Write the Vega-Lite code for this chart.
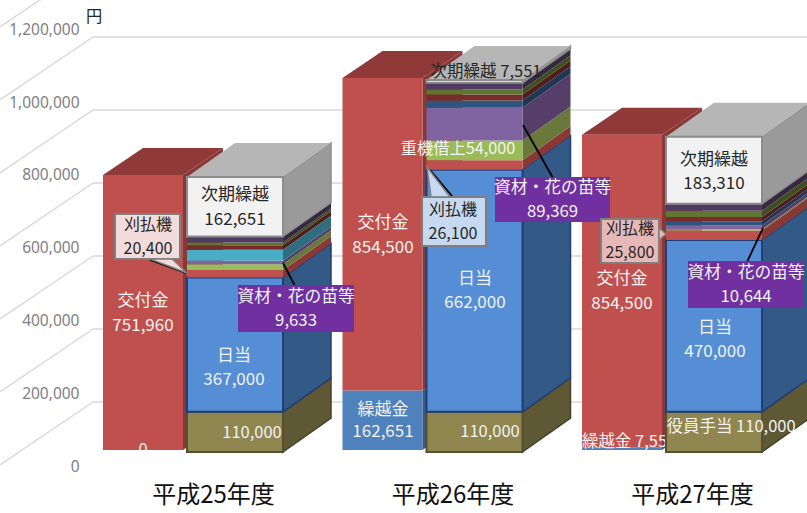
{
"$schema":"https://vega.github.io/schema/vega-lite/v6.json",
"width":807,"height":513,"padding":0,"autosize":{"type":"none"},
"background":"white",
"config":{"view":{"stroke":null},"text":{"font":"Noto Sans CJK JP"}},
"datasets":{
"segs":[
{"year":2013,"col":"L","order":1,"item":"繰越金","amount":0},
{"year":2013,"col":"L","order":2,"item":"交付金","amount":751960},
{"year":2014,"col":"L","order":1,"item":"繰越金","amount":162651},
{"year":2014,"col":"L","order":2,"item":"交付金","amount":854500},
{"year":2015,"col":"L","order":1,"item":"繰越金","amount":7551},
{"year":2015,"col":"L","order":2,"item":"交付金","amount":854500},
{"year":2013,"col":"R","order":1,"item":"役員手当","amount":110000},
{"year":2013,"col":"R","order":2,"item":"日当","amount":367000},
{"year":2013,"col":"R","order":3,"item":"刈払機","amount":20400},
{"year":2013,"col":"R","order":4,"item":"重機借上","amount":16000},
{"year":2013,"col":"R","order":5,"item":"資材・花の苗等","amount":9633},
{"year":2013,"col":"R","order":6,"item":"項目A","amount":30000},
{"year":2013,"col":"R","order":8,"item":"項目C","amount":12000},
{"year":2013,"col":"R","order":9,"item":"項目D","amount":8000},
{"year":2013,"col":"R","order":10,"item":"項目E","amount":16276},
{"year":2013,"col":"R","order":11,"item":"次期繰越","amount":162651},
{"year":2014,"col":"R","order":1,"item":"役員手当","amount":110000},
{"year":2014,"col":"R","order":2,"item":"日当","amount":662000},
{"year":2014,"col":"R","order":3,"item":"刈払機","amount":26100},
{"year":2014,"col":"R","order":4,"item":"重機借上","amount":54000},
{"year":2014,"col":"R","order":5,"item":"資材・花の苗等","amount":89369},
{"year":2014,"col":"R","order":7,"item":"項目B","amount":20000},
{"year":2014,"col":"R","order":8,"item":"項目C","amount":16000},
{"year":2014,"col":"R","order":9,"item":"項目D","amount":14000},
{"year":2014,"col":"R","order":10,"item":"項目E","amount":18131},
{"year":2014,"col":"R","order":11,"item":"次期繰越","amount":7551},
{"year":2015,"col":"R","order":1,"item":"役員手当","amount":110000},
{"year":2015,"col":"R","order":2,"item":"日当","amount":470000},
{"year":2015,"col":"R","order":3,"item":"刈払機","amount":25800},
{"year":2015,"col":"R","order":4,"item":"重機借上","amount":3297},
{"year":2015,"col":"R","order":5,"item":"資材・花の苗等","amount":10644},
{"year":2015,"col":"R","order":7,"item":"項目B","amount":11000},
{"year":2015,"col":"R","order":8,"item":"項目C","amount":12000},
{"year":2015,"col":"R","order":9,"item":"項目D","amount":17000},
{"year":2015,"col":"R","order":10,"item":"項目E","amount":19000},
{"year":2015,"col":"R","order":11,"item":"次期繰越","amount":183310}
],
"labelsBehind":[
{"x":2012.7077,"y":412910,"t":"交付金","tone":"light","sz":"big"},
{"x":2012.7077,"y":344547,"t":"751,960","tone":"light","sz":"big"},
{"x":2012.7077,"y":5469,"t":"0","tone":"light","sz":"small"},
{"x":2013.7098,"y":626201,"t":"交付金","tone":"light","sz":"big"},
{"x":2013.7098,"y":557838,"t":"854,500","tone":"light","sz":"big"},
{"x":2013.7098,"y":114849,"t":"繰越金","tone":"light","sz":"big"},
{"x":2013.7098,"y":54690,"t":"162,651","tone":"light","sz":"big"},
{"x":2014.7077,"y":473069,"t":"交付金","tone":"light","sz":"big"},
{"x":2014.7077,"y":404706,"t":"854,500","tone":"light","sz":"big"},
{"x":2014.737,"y":27345,"t":"繰越金 7,551","tone":"light","sz":"small"}
],
"mask":[{"a":2012.5407,"b":2012.8747,"lo":-13000,"hi":5469}],
"boxes":[
{"k":"a","x":2012.5908,"x2":2012.8622,"y":650811,"y2":527759},
{"k":"p","x":2013.1086,"x2":2013.5846,"y":453927,"y2":330875},
{"k":"c","x":2013.8727,"x2":2014.1399,"y":697298,"y2":563307},
{"k":"p","x":2014.1816,"x2":2014.6535,"y":749253,"y2":631670},
{"k":"e","x":2014.6201,"x2":2014.8622,"y":637139,"y2":516821},
{"k":"p","x":2014.9875,"x2":2015.4635,"y":519555,"y2":396503}
],
"pointers":[
{"k":"a","x":2012.737,"y":527759,"y2":527759},
{"k":"a","x":2012.8288,"y":527759,"y2":505062},
{"k":"a","x":2012.8914,"y":489476,"y2":489476},
{"k":"c","x":2013.8935,"y":779333,"y2":779333},
{"k":"c","x":2013.9102,"y":765113,"y2":697298},
{"k":"c","x":2013.9896,"y":697298,"y2":697298},
{"k":"e","x":2014.8622,"y":612528,"y2":579714},
{"k":"e","x":2014.8915,"y":596121,"y2":596121}
],
"leaders":[
{"x":2012.737,"x2":2012.8872,"y":525024,"y2":489476},
{"x":2013.2923,"x2":2013.3424,"y":516821,"y2":453927},
{"x":2013.9061,"x2":2013.9979,"y":771129,"y2":700032},
{"x":2014.2944,"x2":2014.4196,"y":894182,"y2":749253},
{"x":2015.2965,"x2":2015.2297,"y":612528,"y2":519555}
],
"labels":[
{"x":2012.5031,"y":1189508,"t":"円","tone":"dark","sz":"tiny"},
{"x":2013.0919,"y":702767,"t":"次期繰越","tone":"dark","sz":"big"},
{"x":2013.0919,"y":634404,"t":"162,651","tone":"dark","sz":"big"},
{"x":2013.0877,"y":262512,"t":"日当","tone":"light","sz":"big"},
{"x":2013.0877,"y":196884,"t":"367,000","tone":"light","sz":"big"},
{"x":2013.1628,"y":51956,"t":"110,000","tone":"light","sz":"small"},
{"x":2012.7286,"y":620732,"t":"刈払機","tone":"dark","sz":"box"},
{"x":2012.7286,"y":555104,"t":"20,400","tone":"dark","sz":"box"},
{"x":2013.3466,"y":423848,"t":"資材・花の苗等","tone":"light","sz":"mid"},
{"x":2013.3466,"y":358220,"t":"9,633","tone":"light","sz":"mid"},
{"x":2014.1399,"y":1039110,"t":"次期繰越 7,551","tone":"dark","sz":"small"},
{"x":2014.023,"y":828554,"t":"重機借上54,000","tone":"light","sz":"tiny"},
{"x":2014.0021,"y":661749,"t":"刈払機","tone":"dark","sz":"box"},
{"x":2014.0021,"y":596121,"t":"26,100","tone":"dark","sz":"box"},
{"x":2014.4176,"y":721908,"t":"資材・花の苗等","tone":"light","sz":"mid"},
{"x":2014.4176,"y":656280,"t":"89,369","tone":"light","sz":"mid"},
{"x":2014.094,"y":473069,"t":"日当","tone":"light","sz":"big"},
{"x":2014.094,"y":407441,"t":"662,000","tone":"light","sz":"big"},
{"x":2014.1566,"y":54690,"t":"110,000","tone":"light","sz":"small"},
{"x":2015.0919,"y":798474,"t":"次期繰越","tone":"dark","sz":"big"},
{"x":2015.0919,"y":732846,"t":"183,310","tone":"dark","sz":"big"},
{"x":2014.7411,"y":609794,"t":"刈払機","tone":"dark","sz":"box"},
{"x":2014.7411,"y":544166,"t":"25,800","tone":"dark","sz":"box"},
{"x":2015.2255,"y":489476,"t":"資材・花の苗等","tone":"light","sz":"mid"},
{"x":2015.2255,"y":423848,"t":"10,644","tone":"light","sz":"mid"},
{"x":2015.0961,"y":339078,"t":"日当","tone":"light","sz":"big"},
{"x":2015.0961,"y":273450,"t":"470,000","tone":"light","sz":"big"},
{"x":2015.1629,"y":68363,"t":"役員手当 110,000","tone":"light","sz":"small"}
]
},
"data":{"name":"segs"},
"transform":[
{"stack":"amount","groupby":["year","col"],"sort":[{"field":"order","order":"ascending"}],"as":["low","high"]},
{"calculate":"datum.col=='L'?datum.year-0.4593:datum.year-0.1086","as":"x0"},
{"calculate":"datum.col=='L'?datum.year-0.1253:datum.year+0.2923","as":"x1"},
{"calculate":"datum.col=='L'?0.167:0.2004","as":"dx"},
{"calculate":"datum.col=='L'?73832:92973","as":"dv"},
{"calculate":"datum.low+(datum.col=='L'?5469:0)","as":"ylo"},
{"calculate":"datum.high+(datum.col=='L'?5469:0)","as":"yhi"},
{"calculate":"datum.year+datum.col+datum.item","as":"id"}
],
"resolve":{"scale":{"y":"independent","fill":"independent","stroke":"independent","color":"independent","size":"independent"},"axis":{"x":"independent","y":"independent"}},
"layer":[
{"data":{"values":[{"tick":0,"yr":2013},{"tick":200000,"yr":2014},{"tick":400000,"yr":2015},{"tick":600000,"yr":2015},{"tick":800000,"yr":2015},{"tick":1000000,"yr":2015},{"tick":1200000,"yr":2015}]},
 "mark":{"type":"point","opacity":0},
 "encoding":{
  "x":{"field":"yr","type":"quantitative","scale":{"domain":[2012.1106,2015.4802],"nice":false,"zero":false},
   "axis":{"title":null,"orient":"bottom","values":[2013,2014,2015],"labelExpr":"'平成'+(datum.value-1988)+'年度'","grid":false,"ticks":false,"domain":false,"labelPadding":-30,"labelFontSize":24,"labelFont":"Noto Sans CJK JP","labelColor":"#111111","labelFontWeight":400,"labelOverlap":false,"labelFlush":false,"labelBaseline":"top"}},
  "y":{"field":"tick","type":"quantitative","scale":{"domain":[-104110,1301370],"nice":false,"zero":false},
   "axis":{"title":null,"orient":"left","values":[0,200000,400000,600000,800000,1000000,1200000],"labelExpr":"format(datum.value,',')","grid":false,"ticks":false,"domain":false,"labelPadding":-79,"labelAlign":"right","labelOffset":-8,"labelFontSize":15.5,"labelFont":"Noto Sans","labelColor":"#7F7F7F","labelFlush":false,"labelOverlap":false}}
 }},
{"data":{"values":[{"tick":200000},{"tick":400000},{"tick":600000},{"tick":800000},{"tick":1000000},{"tick":1200000}]},
 "mark":{"type":"rule","color":"#D9D9D9","strokeWidth":1.5},
 "encoding":{
  "x":{"datum":2012.499,"type":"quantitative","scale":{"domain":[2012.1106,2015.4802],"nice":false,"zero":false},"axis":null},
  "x2":{"datum":2015.4802},
  "y":{"field":"tick","type":"quantitative","scale":{"domain":[-104110,1301370],"nice":false,"zero":false},"axis":null}
 }},
{"data":{"values":[{"tick":200000},{"tick":400000},{"tick":600000},{"tick":800000},{"tick":1000000},{"tick":1200000},{"tick":1400000}]},
 "transform":[{"calculate":"datum.tick-172603","as":"low"}],
 "mark":{"type":"rule","color":"#D9D9D9","strokeWidth":1.5},
 "encoding":{
  "x":{"datum":2012.499,"type":"quantitative","scale":{"domain":[2012.1106,2015.4802],"nice":false,"zero":false},"axis":null},
  "x2":{"datum":2012.1106},
  "y":{"field":"tick","type":"quantitative","scale":{"domain":[-104110,1301370],"nice":false,"zero":false},"axis":null},
  "y2":{"field":"low"}
 }},
{"transform":[{"filter":"datum.col=='L'"},{"calculate":"datum.x1","as":"sa"},{"calculate":"datum.x1+datum.dx","as":"sb"},{"fold":["sa","sb"],"as":["k","xv"]},{"calculate":"datum.ylo+(datum.k=='sb'?datum.dv:0)","as":"ya"},{"calculate":"datum.yhi+(datum.k=='sb'?datum.dv:0)","as":"yb"}],
 "mark":{"type":"area"},
 "encoding":{
  "x":{"field":"xv","type":"quantitative","scale":{"domain":[2012.1106,2015.4802],"nice":false,"zero":false},"axis":null},
  "y":{"field":"ya","type":"quantitative","stack":null,"scale":{"domain":[-166804,1235985],"nice":false,"zero":false},"axis":null},
  "y2":{"field":"yb"},
  "detail":{"field":"id"},
  "fill":{"field":"item","type":"nominal","legend":null,"scale":{"domain":["繰越金","交付金"],"range":["#365A85","#8A3836"]}}
 }},
{"transform":[{"filter":"datum.col=='L'&&datum.item=='交付金'"},{"calculate":"datum.x0","as":"ta"},{"calculate":"datum.x0+datum.dx","as":"tb"},{"calculate":"datum.x1","as":"tc"},{"calculate":"datum.x1+datum.dx","as":"td"},{"fold":["ta","tb","tc","td"],"as":["k","xv"]},{"calculate":"datum.k=='ta'?datum.yhi:datum.yhi+datum.dv","as":"ya"},{"calculate":"datum.k=='td'?datum.yhi+datum.dv:datum.yhi","as":"yb"}],
 "mark":{"type":"area"},
 "encoding":{
  "x":{"field":"xv","type":"quantitative","scale":{"domain":[2012.1106,2015.4802],"nice":false,"zero":false},"axis":null},
  "y":{"field":"ya","type":"quantitative","stack":null,"scale":{"domain":[-166804,1235985],"nice":false,"zero":false},"axis":null},
  "y2":{"field":"yb"},
  "detail":{"field":"id"},
  "fill":{"field":"item","type":"nominal","legend":null,"scale":{"domain":["交付金"],"range":["#8F3A38"]}}
 }},
{"transform":[{"filter":"datum.col=='L'"}],
 "mark":{"type":"rect"},
 "encoding":{
  "x":{"field":"x0","type":"quantitative","scale":{"domain":[2012.1106,2015.4802],"nice":false,"zero":false},"axis":null},
  "x2":{"field":"x1"},
  "y":{"field":"ylo","type":"quantitative","scale":{"domain":[-166804,1235985],"nice":false,"zero":false},"axis":null},
  "y2":{"field":"yhi"},
  "fill":{"field":"item","type":"nominal","legend":null,"scale":{"domain":["繰越金","交付金"],"range":["#4F81BD","#C0504D"]}}
 }},
{"data":{"name":"labelsBehind"},
 "mark":{"type":"text","align":"center","baseline":"middle","font":"Noto Sans CJK JP"},
 "encoding":{
  "x":{"field":"x","type":"quantitative","scale":{"domain":[2012.1106,2015.4802],"nice":false,"zero":false},"axis":null},
  "y":{"field":"y","type":"quantitative","scale":{"domain":[-166804,1235985],"nice":false,"zero":false},"axis":null},
  "text":{"field":"t"},
  "color":{"field":"tone","type":"nominal","legend":null,"scale":{"domain":["light","dark"],"range":["#F2F2F2","#262626"]}},
  "size":{"field":"sz","type":"nominal","legend":null,"scale":{"domain":["big","mid","small","tiny","box"],"range":[17,16,15,14,16]}}
 }},
{"data":{"name":"mask"},
 "mark":{"type":"rect","color":"white"},
 "encoding":{
  "x":{"field":"a","type":"quantitative","scale":{"domain":[2012.1106,2015.4802],"nice":false,"zero":false},"axis":null},
  "x2":{"field":"b"},
  "y":{"field":"lo","type":"quantitative","scale":{"domain":[-166804,1235985],"nice":false,"zero":false},"axis":null},
  "y2":{"field":"hi"}
 }},
{"transform":[{"filter":"datum.col=='R'"},{"calculate":"datum.x1","as":"sa"},{"calculate":"datum.x1+datum.dx","as":"sb"},{"fold":["sa","sb"],"as":["k","xv"]},{"calculate":"datum.ylo+(datum.k=='sb'?datum.dv:0)","as":"ya"},{"calculate":"datum.yhi+(datum.k=='sb'?datum.dv:0)","as":"yb"}],
 "mark":{"type":"area","strokeWidth":1.5},
 "encoding":{
  "x":{"field":"xv","type":"quantitative","scale":{"domain":[2012.1106,2015.4802],"nice":false,"zero":false},"axis":null},
  "y":{"field":"ya","type":"quantitative","stack":null,"scale":{"domain":[-166804,1235985],"nice":false,"zero":false},"axis":null},
  "y2":{"field":"yb"},
  "detail":{"field":"id"},
  "fill":{"field":"item","type":"nominal","legend":null,"scale":{"domain":["役員手当","日当","刈払機","重機借上","資材・花の苗等","項目A","項目B","項目C","項目D","項目E","次期繰越"],"range":["#5F5835","#335A87","#8A3836","#68793B","#553F68","#2F6E80","#1F3655","#4F1D1C","#3F4E20","#352840","#9A9A9A"]}},
  "stroke":{"field":"item","type":"nominal","legend":null,"scale":{"domain":["役員手当","日当","刈払機","重機借上","資材・花の苗等","項目A","項目B","項目C","項目D","項目E","次期繰越"],"range":["#45422A","#1F3F78","transparent","transparent","transparent","transparent","transparent","transparent","transparent","transparent","#8C8C8C"]}}
 }},
{"transform":[{"filter":"datum.col=='R'&&datum.item=='次期繰越'"},{"calculate":"datum.x0","as":"ta"},{"calculate":"datum.x0+datum.dx","as":"tb"},{"calculate":"datum.x1","as":"tc"},{"calculate":"datum.x1+datum.dx","as":"td"},{"fold":["ta","tb","tc","td"],"as":["k","xv"]},{"calculate":"datum.k=='ta'?datum.yhi:datum.yhi+datum.dv","as":"ya"},{"calculate":"datum.k=='td'?datum.yhi+datum.dv:datum.yhi","as":"yb"}],
 "mark":{"type":"area"},
 "encoding":{
  "x":{"field":"xv","type":"quantitative","scale":{"domain":[2012.1106,2015.4802],"nice":false,"zero":false},"axis":null},
  "y":{"field":"ya","type":"quantitative","stack":null,"scale":{"domain":[-166804,1235985],"nice":false,"zero":false},"axis":null},
  "y2":{"field":"yb"},
  "detail":{"field":"id"},
  "fill":{"field":"item","type":"nominal","legend":null,"scale":{"domain":["次期繰越"],"range":["#B6B6B6"]}}
 }},
{"transform":[{"filter":"datum.col=='R'"}],
 "mark":{"type":"rect","strokeWidth":2},
 "encoding":{
  "x":{"field":"x0","type":"quantitative","scale":{"domain":[2012.1106,2015.4802],"nice":false,"zero":false},"axis":null},
  "x2":{"field":"x1"},
  "y":{"field":"ylo","type":"quantitative","scale":{"domain":[-166804,1235985],"nice":false,"zero":false},"axis":null},
  "y2":{"field":"yhi"},
  "fill":{"field":"item","type":"nominal","legend":null,"scale":{"domain":["役員手当","日当","刈払機","重機借上","資材・花の苗等","項目A","項目B","項目C","項目D","項目E","次期繰越"],"range":["#8F8650","#558ED5","#C0504D","#9BBB59","#8064A2","#4BACC6","#2F5480","#772C2A","#5F7530","#4F3B62","#F2F2F2"]}},
  "stroke":{"field":"item","type":"nominal","legend":null,"scale":{"domain":["役員手当","日当","刈払機","重機借上","資材・花の苗等","項目A","項目B","項目C","項目D","項目E","次期繰越"],"range":["#55502F","#1F3F78","transparent","transparent","transparent","transparent","transparent","transparent","transparent","transparent","#8C8C8C"]}}
 }},
{"data":{"name":"leaders"},
 "mark":{"type":"rule","color":"#000000","strokeWidth":1.8},
 "encoding":{
  "x":{"field":"x","type":"quantitative","scale":{"domain":[2012.1106,2015.4802],"nice":false,"zero":false},"axis":null},
  "x2":{"field":"x2"},
  "y":{"field":"y","type":"quantitative","scale":{"domain":[-166804,1235985],"nice":false,"zero":false},"axis":null},
  "y2":{"field":"y2"}
 }},
{"data":{"name":"boxes"},
 "mark":{"type":"rect","strokeWidth":2},
 "encoding":{
  "x":{"field":"x","type":"quantitative","scale":{"domain":[2012.1106,2015.4802],"nice":false,"zero":false},"axis":null},
  "x2":{"field":"x2"},
  "y":{"field":"y","type":"quantitative","scale":{"domain":[-166804,1235985],"nice":false,"zero":false},"axis":null},
  "y2":{"field":"y2"},
  "fill":{"field":"k","type":"nominal","legend":null,"scale":{"domain":["a","c","e","p"],"range":["#F2DCDB","#C6D9F1","#E6B9B8","#7030A0"]}},
  "stroke":{"field":"k","type":"nominal","legend":null,"scale":{"domain":["a","c","e","p"],"range":["#7F7F7F","#7F7F7F","#7F7F7F","#7030A0"]}}
 }},
{"data":{"name":"pointers"},
 "mark":{"type":"area","strokeWidth":1.5,"stroke":"#7F7F7F"},
 "encoding":{
  "x":{"field":"x","type":"quantitative","scale":{"domain":[2012.1106,2015.4802],"nice":false,"zero":false},"axis":null},
  "y":{"field":"y","type":"quantitative","stack":null,"scale":{"domain":[-166804,1235985],"nice":false,"zero":false},"axis":null},
  "y2":{"field":"y2"},
  "detail":{"field":"k"},
  "fill":{"field":"k","type":"nominal","legend":null,"scale":{"domain":["a","c","e"],"range":["#F2DCDB","#C6D9F1","#E6B9B8"]}}
 }},
{"data":{"name":"labels"},
 "mark":{"type":"text","align":"center","baseline":"middle","font":"Noto Sans CJK JP"},
 "encoding":{
  "x":{"field":"x","type":"quantitative","scale":{"domain":[2012.1106,2015.4802],"nice":false,"zero":false},"axis":null},
  "y":{"field":"y","type":"quantitative","scale":{"domain":[-166804,1235985],"nice":false,"zero":false},"axis":null},
  "text":{"field":"t"},
  "color":{"field":"tone","type":"nominal","legend":null,"scale":{"domain":["light","dark"],"range":["#F2F2F2","#262626"]}},
  "size":{"field":"sz","type":"nominal","legend":null,"scale":{"domain":["big","mid","small","tiny","box"],"range":[17,16,15,14,16]}}
 }}
]
}
